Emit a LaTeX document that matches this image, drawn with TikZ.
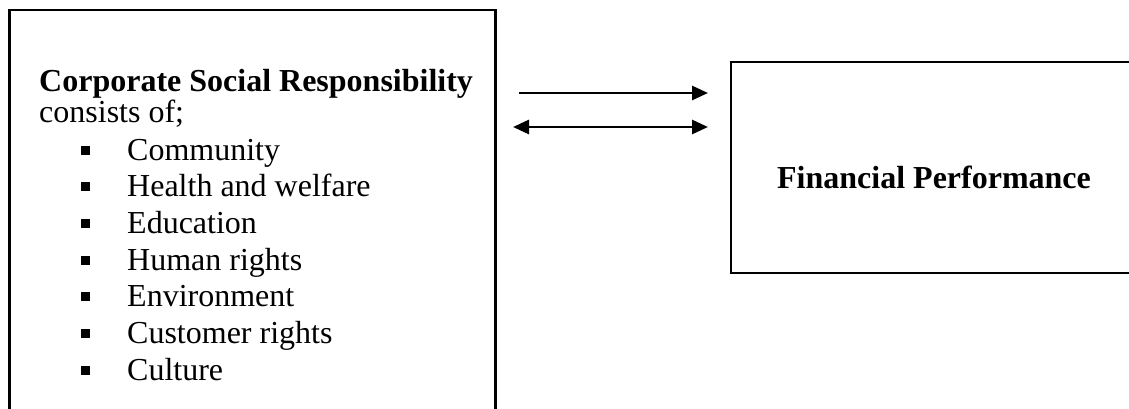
\documentclass[tikz,border=0pt]{standalone}
\usepackage{fontspec}
\setmainfont{Liberation Serif}
\usepackage{tikz}
\usetikzlibrary{arrows.meta}

\tikzset{
  frame/.style={draw, line width=2.6pt, inner sep=0pt, outer sep=0pt},
  linetext/.style={anchor=base west, inner sep=0pt, font=\fontsize{32}{36}\selectfont},
  link/.style={line width=2.8pt, -{Triangle[length=16pt,width=14pt]}},
  bilink/.style={line width=2.8pt, {Triangle[length=16pt,width=14pt]}-{Triangle[length=16pt,width=14pt]}}
}

\begin{document}
\begin{tikzpicture}[x=1pt,y=1pt,yscale=-1]
                   \useasboundingbox (0,0) rectangle (1129,409);
                   \clip (0,0) rectangle (1129,409);
                   %Boxes
                   \node [frame, minimum width=486pt, minimum height=430pt] (csrbox) at (252.5,225) {};
                   \node [frame, minimum width=439pt, minimum height=211pt] (fpbox) at (950.5,167.5) {};

                   % Text Node
                   \node [linetext] (csrtitle) at (39,92) {\textbf{Corporate Social Responsibility}};
                   % Text Node
                   \node [linetext] (csrsub) at (39,123) {consists of;};
                   % Bullet list
                   \foreach \lbl [count=\i] in {Community, Health and welfare, Education, Human rights, Environment, Customer rights, Culture}
                     \node [linetext] (item\i) at (81,{160+36.67*(\i-1)}) {\makebox[46pt][l]{\rule[5.5pt]{9pt}{9pt}}\lbl};
                   % Text Node
                   \node [anchor=base, inner sep=0pt, font=\fontsize{32}{36}\selectfont\bfseries] (fptext) at (934,188) {Financial Performance};

                   %Arrows
                   \coordinate (fwdstart) at (519,93);
                   \coordinate (fwdend) at (708,93);
                   \coordinate (bistart) at (513,127);
                   \coordinate (biend) at (708,127);
                   \draw [link] (fwdstart) -- (fwdend);
                   \draw [bilink] (bistart) -- (biend);
                \end{tikzpicture}
\end{document}
